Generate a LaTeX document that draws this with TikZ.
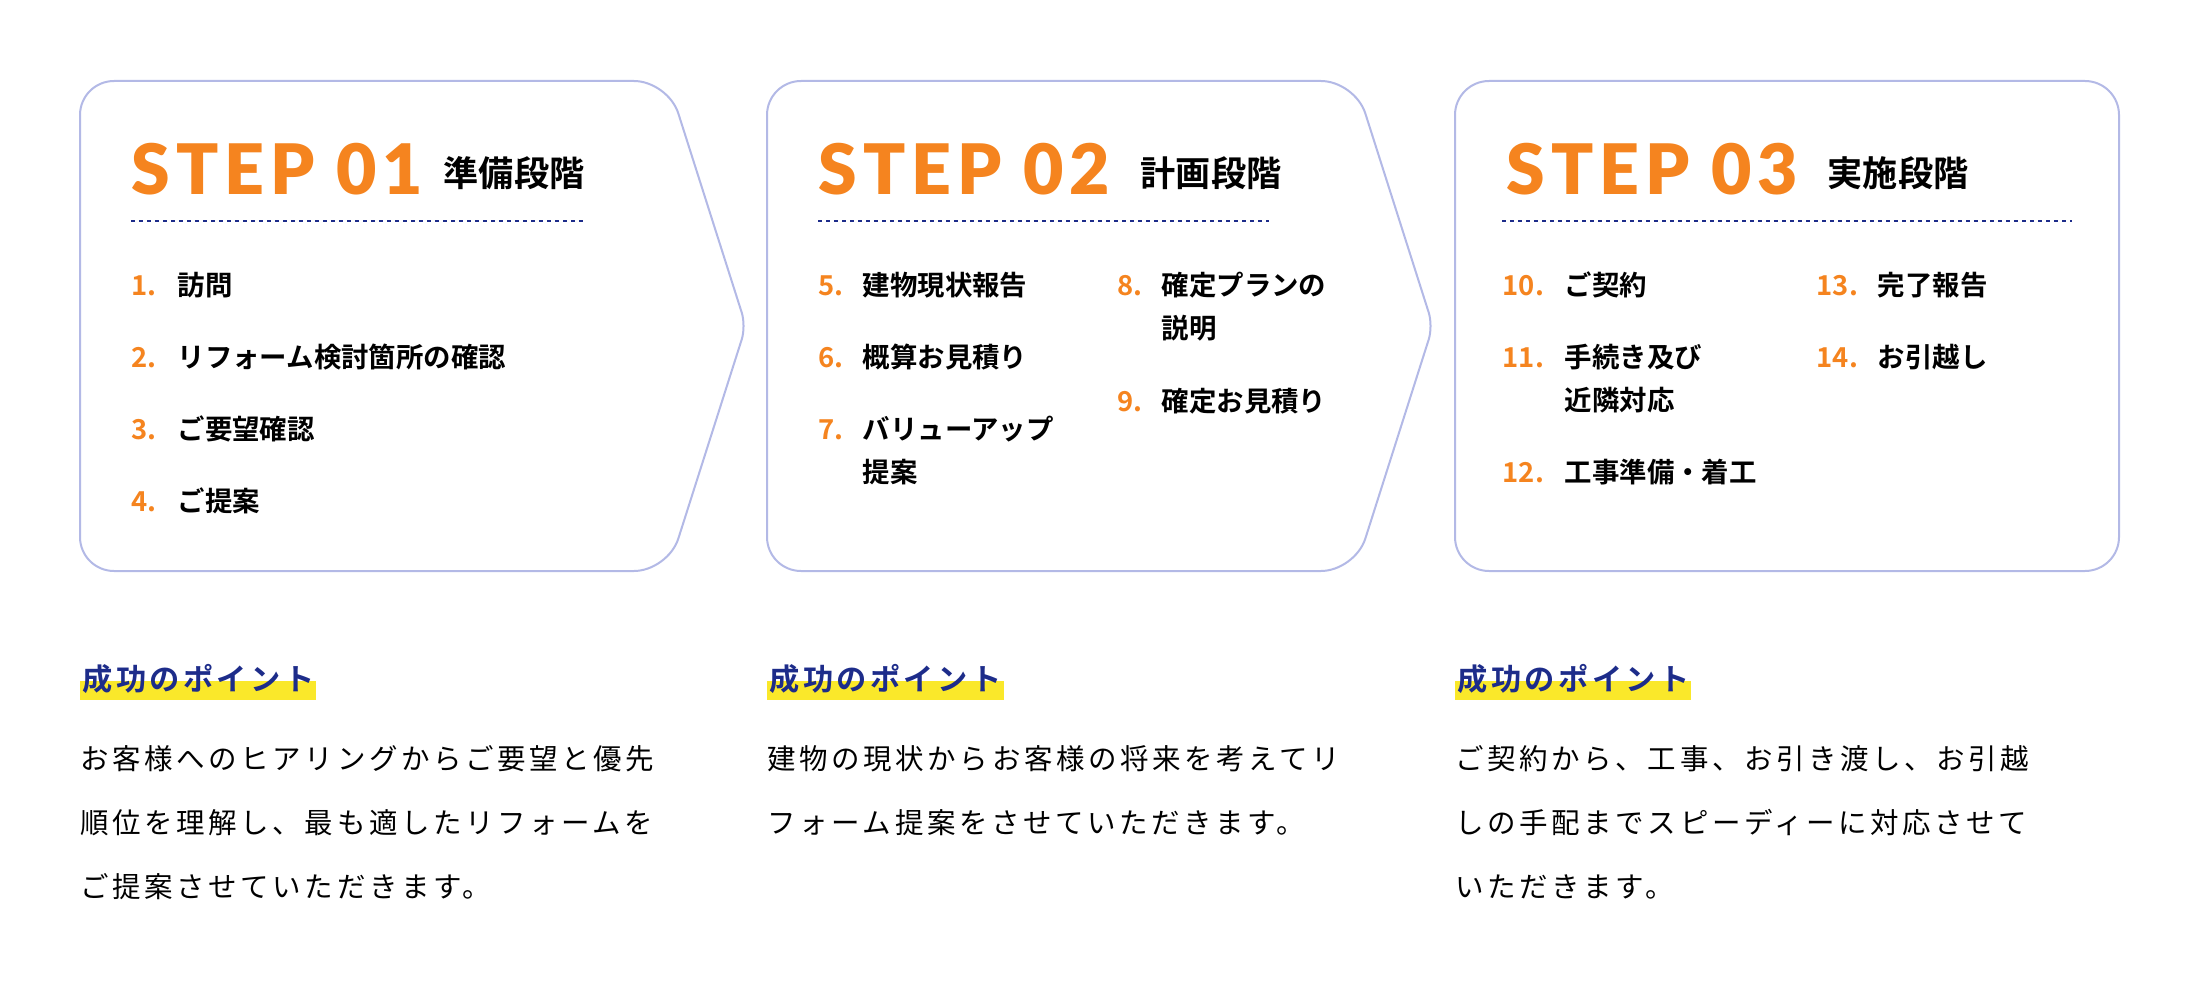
\documentclass[tikz,border=0pt]{standalone}
\usepackage{fontspec}
\setmainfont{Noto Sans CJK JP}
\newfontfamily\jpfont{Noto Sans CJK JP}[BoldFont={Noto Sans CJK JP Bold}]
\newfontfamily\jpbody{Noto Sans CJK JP}[LetterSpace=12.5]
\newfontfamily\jphead{Noto Sans CJK JP Bold}[LetterSpace=11]
\newfontfamily\numfont{Noto Sans CJK JP Bold}
\newfontfamily\stepfont{Lato Black}[LetterSpace=8.5]
\definecolor{stepOrange}{HTML}{F5841F}
\definecolor{pointNavy}{HTML}{1D2C8A}
\definecolor{markYellow}{HTML}{FAE82A}
\definecolor{frameLine}{HTML}{B3B9E6}

\begin{document}
\begin{tikzpicture}[
        x=0.01cm, y=-0.01cm,
        stepframe/.style={draw=frameLine, line width=0.02cm, fill=white},
        stepno/.style={anchor=base west, inner sep=0pt, text=stepOrange, font=\stepfont\fontsize{19.8}{22}\selectfont},
        stage/.style={anchor=base west, inner sep=0pt, font=\jpfont\bfseries\fontsize{10}{12}\selectfont},
        dashrule/.style={draw=pointNavy, line width=0.02cm, dash pattern=on 0.04cm off 0.04cm},
        num/.style={anchor=base west, inner sep=0pt, text=stepOrange, font=\numfont\fontsize{7.8}{12.2}\selectfont},
        item/.style={anchor=base west, inner sep=0pt, align=left, font=\jpfont\bfseries\fontsize{7.8}{12.2}\selectfont},
        highlight/.style={fill=markYellow},
        pointhead/.style={anchor=base west, inner sep=0pt, text=pointNavy, font=\jphead\fontsize{8.6}{10}\selectfont},
        pointtext/.style={anchor=base west, inner sep=0pt, align=left, font=\jpbody\fontsize{8.1}{18.07}\selectfont}
    ]

        \useasboundingbox (0,0) rectangle (2200,988);

        % ========================================================
        % MARCOS
        % ========================================================
        \draw[stepframe] (80,326) [rounded corners=0.34cm] |- (668,81) [rounded corners=0.14cm] -- (746,326) [rounded corners=0.34cm] -- (668,571) -| (80,326) -- cycle;
        \draw[stepframe] (767,326) [rounded corners=0.34cm] |- (1355,81) [rounded corners=0.14cm] -- (1433,326) [rounded corners=0.34cm] -- (1355,571) -| (767,326) -- cycle;
        \draw[stepframe, rounded corners=0.34cm] (1455,81) rectangle (2119,571);

        % ========================================================
        % STEP 01
        % ========================================================
        \node[stepno] (step1) at (131,195) {STEP 01};
        \node[stage] (stage1) at (443,186) {準備段階};
        \draw[dashrule] (131,221) -- (583,221);

        \node[num] (n1) at (131,295) {1.};
        \node[item] (i1) at (177,295) {訪問};
        \node[num] (n2) at (131,367) {2.};
        \node[item] (i2) at (177,367) {リフォーム検討箇所の確認};
        \node[num] (n3) at (131,439) {3.};
        \node[item] (i3) at (177,439) {ご要望確認};
        \node[num] (n4) at (131,511) {4.};
        \node[item] (i4) at (177,511) {ご提案};

        % ========================================================
        % STEP 02
        % ========================================================
        \node[stepno] (step2) at (818,195) {STEP 02};
        \node[stage] (stage2) at (1140,186) {計画段階};
        \draw[dashrule] (818,221) -- (1269,221);

        % (los textos de dos líneas se anclan en la última línea)
        \node[num] (n5) at (818,295) {5.};
        \node[item] (i5) at (862,295) {建物現状報告};
        \node[num] (n6) at (818,367) {6.};
        \node[item] (i6) at (862,367) {概算お見積り};
        \node[num] (n7) at (818,439) {7.};
        \node[item] (i7) at (862,482) {バリューアップ\\提案};
        \node[num] (n8) at (1117,295) {8.};
        \node[item] (i8) at (1161,338) {確定プランの\\説明};
        \node[num] (n9) at (1117,411) {9.};
        \node[item] (i9) at (1161,411) {確定お見積り};

        % ========================================================
        % STEP 03
        % ========================================================
        \node[stepno] (step3) at (1506,195) {STEP 03};
        \node[stage] (stage3) at (1827,186) {実施段階};
        \draw[dashrule] (1502,221) -- (2072,221);

        \node[num] (n10) at (1502,295) {10.};
        \node[item] (i10) at (1564,295) {ご契約};
        \node[num] (n11) at (1502,367) {11.};
        \node[item] (i11) at (1564,410) {手続き及び\\近隣対応};
        \node[num] (n12) at (1502,482) {12.};
        \node[item] (i12) at (1564,482) {工事準備・着工};
        \node[num] (n13) at (1816,295) {13.};
        \node[item] (i13) at (1877,295) {完了報告};
        \node[num] (n14) at (1816,367) {14.};
        \node[item] (i14) at (1877,367) {お引越し};

        % ========================================================
        % PUNTOS
        % ========================================================
        \fill[highlight] (80,681) rectangle (316,700);
        \node[pointhead] (ph1) at (82,690) {成功のポイント};
        \node[pointtext] (pt1) at (80,897) {お客様へのヒアリングからご要望と優先\\順位を理解し、最も適したリフォームを\\ご提案させていただきます。};

        \fill[highlight] (767,681) rectangle (1004,700);
        \node[pointhead] (ph2) at (769,690) {成功のポイント};
        \node[pointtext] (pt2) at (767,833) {建物の現状からお客様の将来を考えてリ\\フォーム提案をさせていただきます。};

        \fill[highlight] (1455,681) rectangle (1691,700);
        \node[pointhead] (ph3) at (1457,690) {成功のポイント};
        \node[pointtext] (pt3) at (1455,897) {ご契約から、工事、お引き渡し、お引越\\しの手配までスピーディーに対応させて\\いただきます。};

    \end{tikzpicture}
\end{document}
